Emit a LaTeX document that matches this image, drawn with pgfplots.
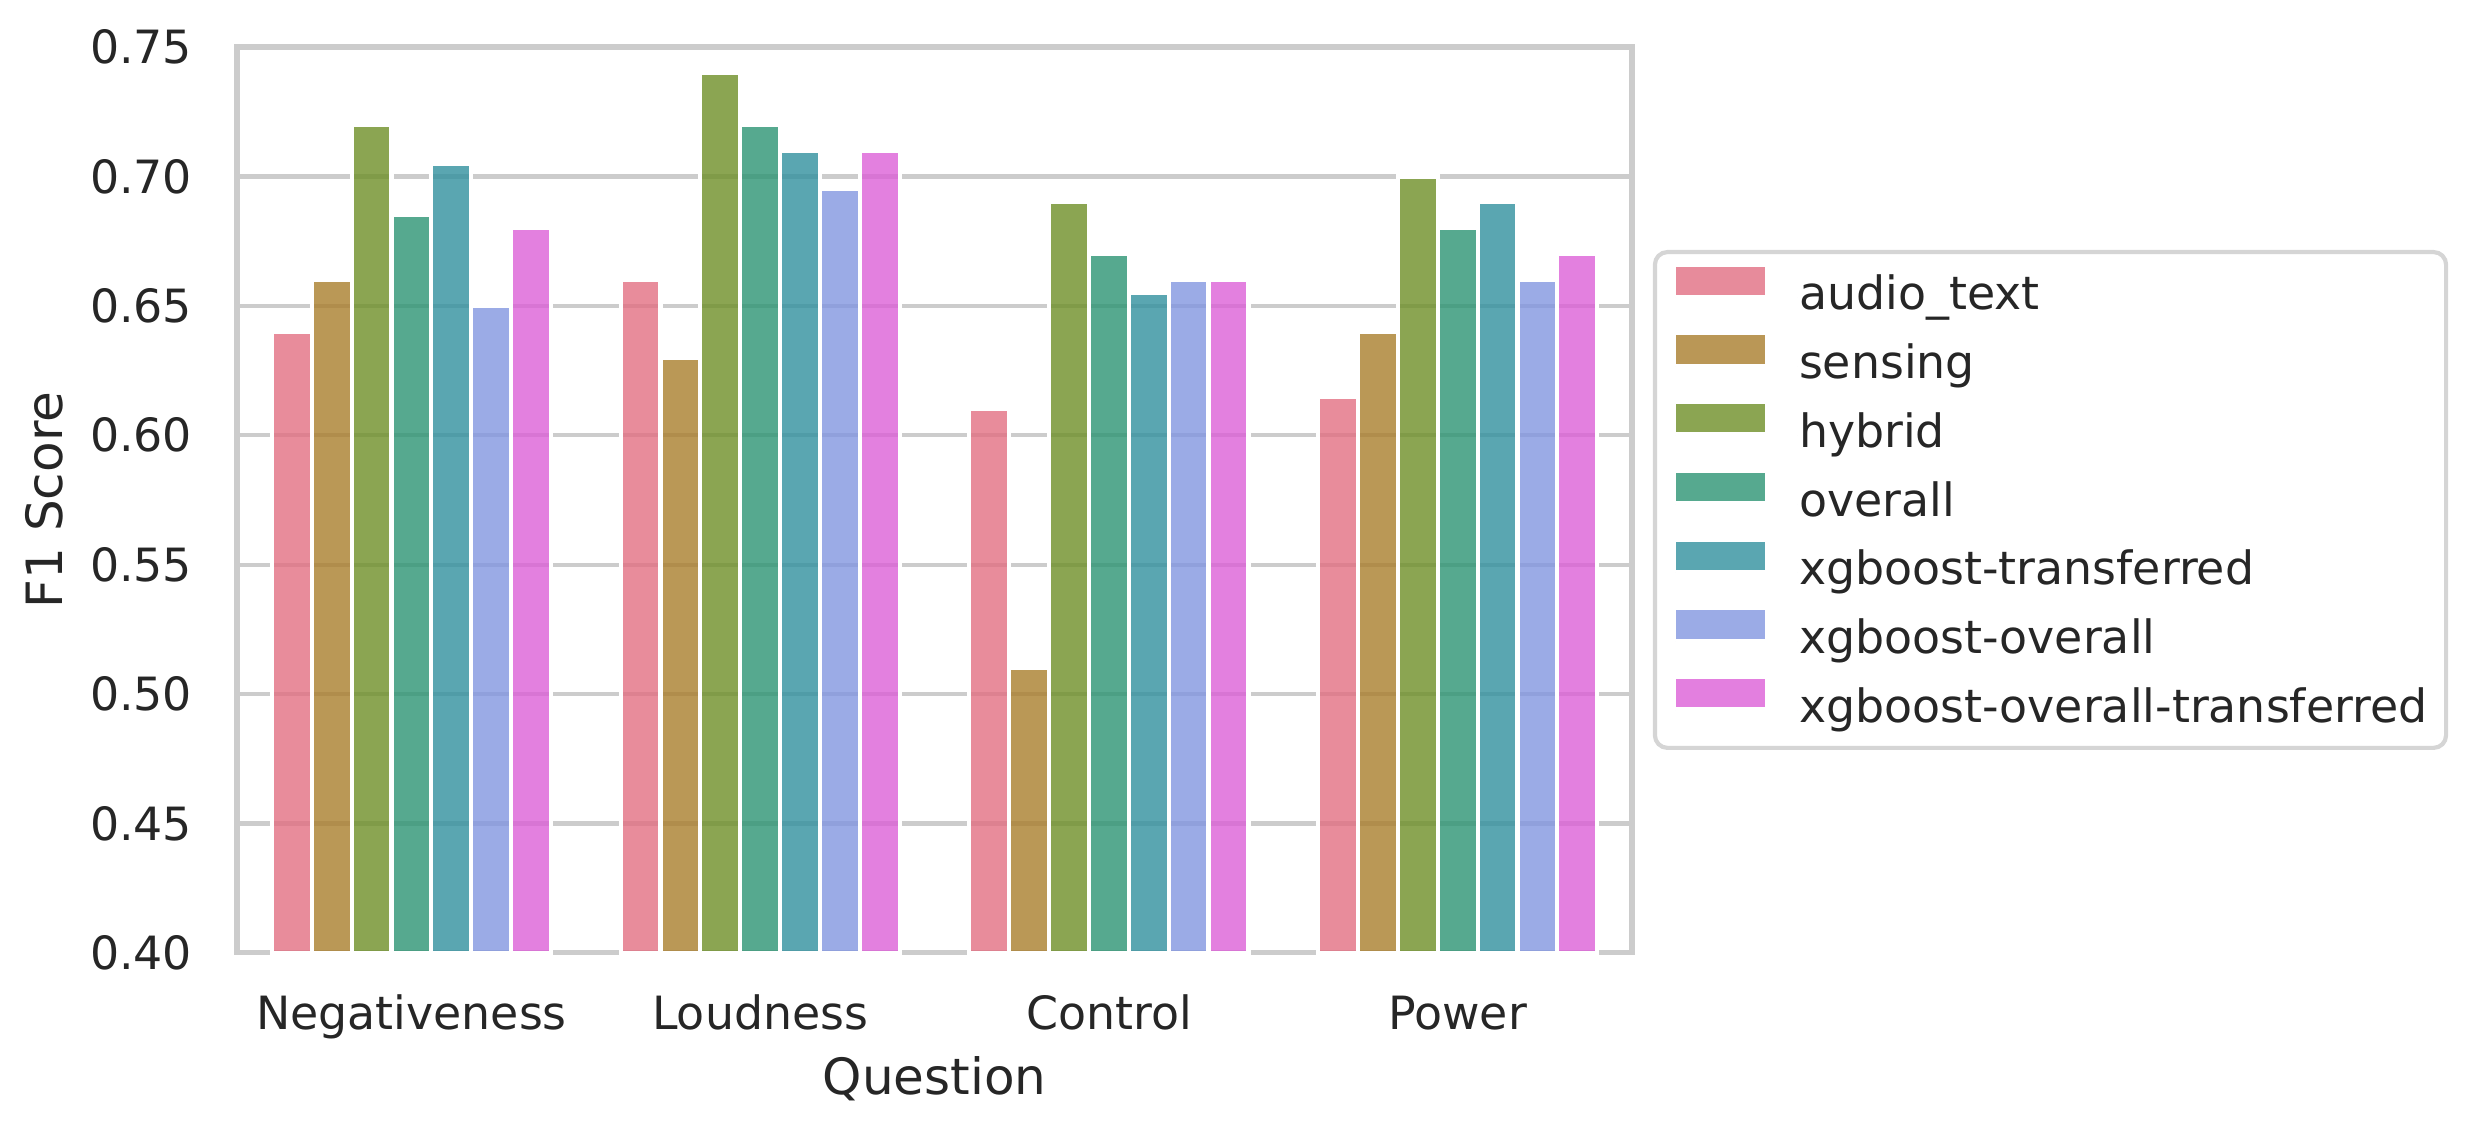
\documentclass[border=0pt]{standalone}
\usepackage{pgfplots}
\pgfplotsset{compat=1.18}
\usepackage{fontspec}
\setmainfont{DejaVu Sans}
\definecolor{c1}{HTML}{E26F82}
\definecolor{c2}{HTML}{A97E2C}
\definecolor{c3}{HTML}{6E8F27}
\definecolor{c4}{HTML}{2C9473}
\definecolor{c5}{HTML}{31909E}
\definecolor{c6}{HTML}{8296E0}
\definecolor{c7}{HTML}{DC60D7}
\definecolor{txt}{HTML}{262626}
\definecolor{gridc}{HTML}{CCCCCC}
\definecolor{legc}{HTML}{D5D5D5}
\begin{document}
\begin{tikzpicture}
\begin{axis}[
  scale only axis,
  width=334.8pt, height=217.4pt,
  xmin=-0.5, xmax=3.5, ymin=0.40, ymax=0.75,
  xtick={0,1,2,3},
  xticklabels={Negativeness,Loudness,Control,Power},
  ytick={0.40,0.45,0.50,0.55,0.60,0.65,0.70,0.75},
  /pgf/number format/assume math mode=true,
  yticklabel={\pgfmathprintnumber[fixed,fixed zerofill,precision=2]{\tick}},
  ymajorgrids,
  grid style={gridc, line width=1pt},
  axis line style={gridc, line width=1.25pt},
  major tick length=0pt,
  tick style={draw=none},
  tick label style={font=\fontsize{11}{13}\selectfont, text=txt},
  yticklabel style={inner sep=0pt, anchor=east, xshift=-10.6pt},
  xticklabel style={inner sep=0pt, anchor=north, text height=8.4pt, text depth=0pt, yshift=-9.9pt},
  xlabel={Question},
  ylabel={F1 Score},
  label style={font=\fontsize{12}{14}\selectfont, text=txt},
  xlabel style={at={(axis description cs:0.5,0)}, anchor=north, inner sep=0pt, yshift=-24.7pt},
  ylabel style={at={(axis description cs:-0.124,0.5)}, anchor=south, inner sep=0pt},
  ybar,
  bar width=0.1143,
  every axis plot/.append style={draw=white, line width=1pt, fill opacity=0.8},
  legend image code/.code={
    \path (0pt,0pt) -- (29.1pt,0pt);
    \fill[#1, draw=none, sharp corners] (0pt,0.7pt) rectangle (21.4pt,7.5pt);
  },
  legend cell align=left,
  legend style={
    at={(1,0.5)}, anchor=west, xshift=5pt,
    draw=legc, line width=1pt, rounded corners=3pt, fill=white,
    font=\fontsize{11}{13}\selectfont, text=txt,
    inner xsep=4.5pt, inner ysep=3.5pt,
    row sep=3.5pt,
    nodes={inner sep=0pt, text height=8.4pt, text depth=2.6pt},
  },
  clip=false,
]
\addplot[fill=c1, bar shift=-0.3429] coordinates {(0,0.64) (1,0.66) (2,0.61) (3,0.615)};
\addlegendentry{audio\_text}
\addplot[fill=c2, bar shift=-0.2286] coordinates {(0,0.66) (1,0.63) (2,0.51) (3,0.64)};
\addlegendentry{sensing}
\addplot[fill=c3, bar shift=-0.1143] coordinates {(0,0.72) (1,0.74) (2,0.69) (3,0.70)};
\addlegendentry{hybrid}
\addplot[fill=c4, bar shift=0] coordinates {(0,0.685) (1,0.72) (2,0.67) (3,0.68)};
\addlegendentry{overall}
\addplot[fill=c5, bar shift=0.1143] coordinates {(0,0.705) (1,0.71) (2,0.655) (3,0.69)};
\addlegendentry{xgboost-transferred}
\addplot[fill=c6, bar shift=0.2286] coordinates {(0,0.65) (1,0.695) (2,0.66) (3,0.66)};
\addlegendentry{xgboost-overall}
\addplot[fill=c7, bar shift=0.3429] coordinates {(0,0.68) (1,0.71) (2,0.66) (3,0.67)};
\addlegendentry{xgboost-overall-transferred}
\coordinate (SW) at (rel axis cs:0,0);
\end{axis}
\pgfresetboundingbox
\path[use as bounding box] (SW) ++(-56.9pt,-43pt) rectangle ++(594.5pt,271.7pt);
\end{tikzpicture}
\end{document}
